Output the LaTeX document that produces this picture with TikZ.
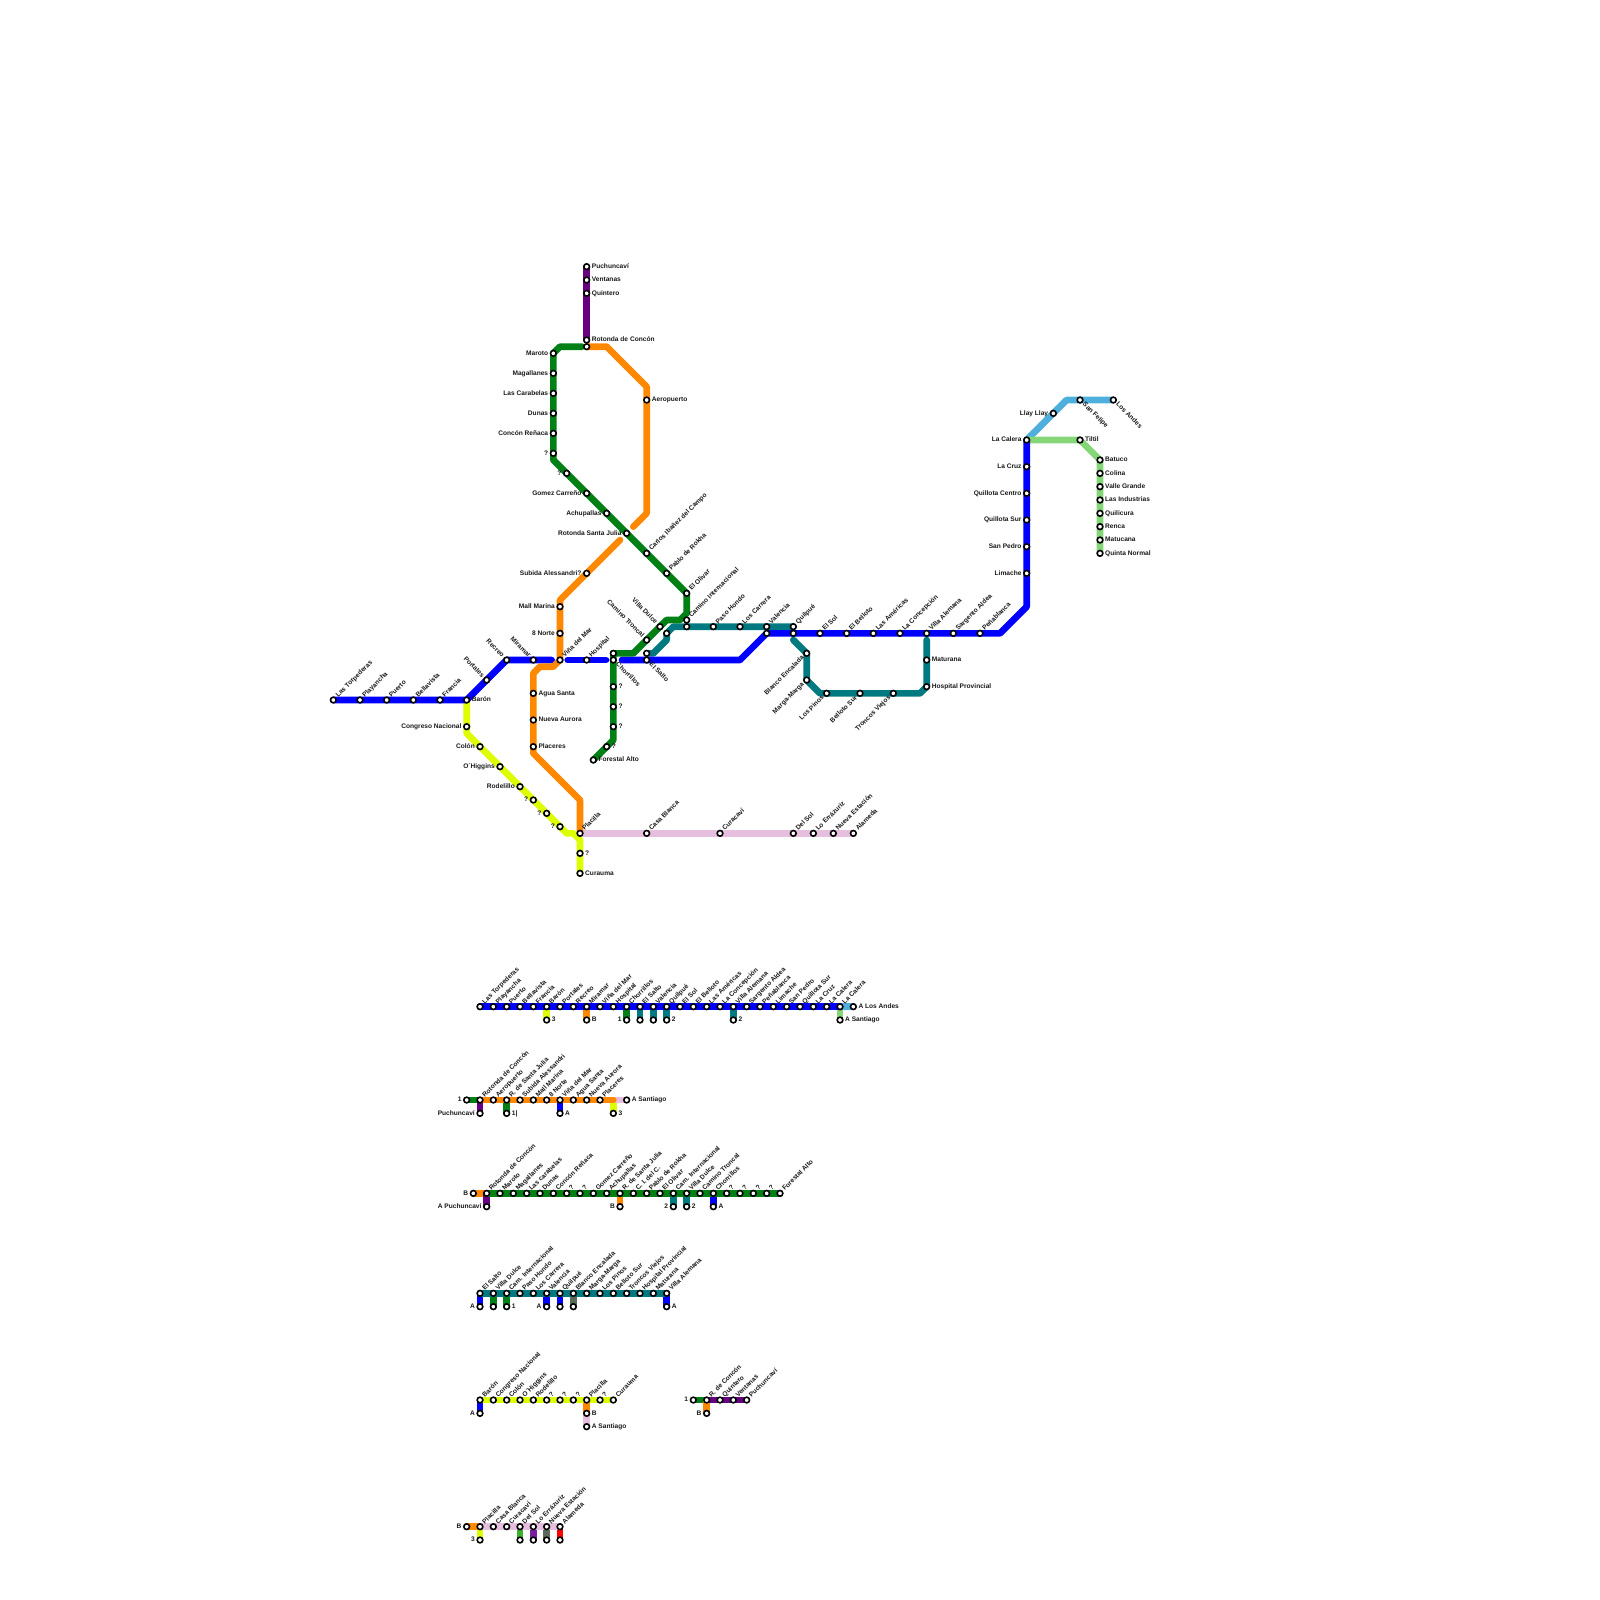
\documentclass[tikz,border=0pt]{standalone}
\usepackage{fontspec}
\setmainfont{Liberation Sans}
\pgfdeclarelayer{lines}
\pgfsetlayers{lines,main}
\definecolor{cblue}{HTML}{0000FF}
\definecolor{cgreen}{HTML}{008015}
\definecolor{corange}{HTML}{FF8800}
\definecolor{cpurple}{HTML}{660080}
\definecolor{cteal}{HTML}{007A80}
\definecolor{cyellow}{HTML}{DDFF00}
\definecolor{cpink}{HTML}{E5BFDD}
\definecolor{csky}{HTML}{4FAFDC}
\definecolor{clime}{HTML}{85D676}
\definecolor{cmid}{HTML}{40B030}
\definecolor{cviolet}{HTML}{7A1FA0}
\definecolor{cgray}{HTML}{5A6A5A}
\definecolor{cred}{HTML}{FF0000}
\tikzset{
  stnode/.style={circle,draw=black,fill=white,line width=.8pt,inner sep=0pt,outer sep=0pt,minimum size=2.85pt},
  lblbase/.style={font=\fontsize{3.3}{4}\selectfont\bfseries,text=black!90,inner xsep=2.4pt,inner ysep=0pt,text height=2.4pt,text depth=.6pt},
  lblR/.style={lblbase,anchor=west},
  lblL/.style={lblbase,anchor=east},
  lblNE/.style={lblbase,anchor=west,rotate=45},
  lblSE/.style={lblbase,anchor=west,rotate=-45},
  lblNW/.style={lblbase,anchor=east,rotate=-45},
  lblSW/.style={lblbase,anchor=east,rotate=45},
  metro/.style={line width=3.3333pt,line cap=round,line join=round},
  lnblue/.style={metro,draw=cblue},
  lngreen/.style={metro,draw=cgreen},
  lnorange/.style={metro,draw=corange},
  lnpurple/.style={metro,draw=cpurple},
  lnteal/.style={metro,draw=cteal},
  lnyellow/.style={metro,draw=cyellow},
  lnpink/.style={metro,draw=cpink},
  lnsky/.style={metro,draw=csky},
  lnlime/.style={metro,draw=clime},
  lnmid/.style={metro,draw=cmid},
  lnviolet/.style={metro,draw=cviolet},
  lngray/.style={metro,draw=cgray},
  lnred/.style={metro,draw=cred},
}
\newcommand{\Sta}[4]{\node[stnode] (#1) at (#2) {}; \node[lbl#3] (#1t) at (#1.center) {#4};}
\newcommand{\Stb}[2]{\node[stnode] (#1) at (#2) {};}
\begin{document}
\begin{tikzpicture}[x=3.33333pt,y=-3.33333pt]
\useasboundingbox (0,0) rectangle (240,240);
% ---- main map stations
\Sta{puch}{88,40}{R}{Puchuncaví}
\Sta{vent}{88,42}{R}{Ventanas}
\Sta{quin}{88,44}{R}{Quintero}
\Sta{rotc}{88,51}{R}{Rotonda de Concón}
\Stb{rotb}{88,52}
\Sta{maro}{83,53}{L}{Maroto}
\Sta{maga}{83,56}{L}{Magallanes}
\Sta{cara}{83,59}{L}{Las Carabelas}
\Sta{duna}{83,62}{L}{Dunas}
\Sta{cren}{83,65}{L}{Concón Reñaca}
\Sta{qa}{83,68}{L}{?}
\Sta{qb}{85,71}{L}{?}
\Sta{gome}{88,74}{L}{Gomez Carreño}
\Sta{achu}{91,77}{L}{Achupallas}
\Sta{rsj}{94,80}{L}{Rotonda Santa Julia}
\Sta{cibz}{97,83}{NE}{Carlos Ibañez del Campo}
\Sta{pablo}{100,86}{NE}{Pablo de Rokha}
\Sta{oliv}{103,89}{NE}{El Olivar}
\Sta{cint}{103,93}{NE}{Camino Internacional}
\Stb{cintb}{103,94}
\Sta{paso}{107,94}{NE}{Paso Hondo}
\Sta{lcar}{111,94}{NE}{Los Carrera}
\Sta{vald}{99,94}{NW}{Villa Dulce}
\Stb{tealb}{100,95}
\Sta{ctro}{97,96}{NW}{Camino Troncal}
\Stb{salb}{97,98}
\Sta{salt}{97,99}{SE}{El Salto}
\Stb{chob}{92,98}
\Sta{chor}{92,99}{SE}{Chorrillos}
\Sta{hosp}{88,99}{NE}{Hospital}
\Sta{vina}{84,99}{NE}{Viña del Mar}
\Sta{mira}{80,99}{NW}{Miramar}
\Sta{recr}{76,99}{NW}{Recreo}
\Sta{port}{73,102}{NW}{Portales}
\Sta{baro}{70,105}{R}{Barón}
\Sta{fran}{66,105}{NE}{Francia}
\Sta{bell}{62,105}{NE}{Bellavista}
\Sta{puer}{58,105}{NE}{Puerto}
\Sta{play}{54,105}{NE}{Playancha}
\Sta{torp}{50,105}{NE}{Las Torpederas}
\Sta{aero}{97,60}{R}{Aeropuerto}
\Sta{sale}{88,86}{L}{Subida Alessandri?}
\Sta{mall}{84,91}{L}{Mall Marina}
\Sta{nort}{84,95}{L}{8 Norte}
\Sta{agua}{80,104}{R}{Agua Santa}
\Sta{naur}{80,108}{R}{Nueva Aurora}
\Sta{plac}{80,112}{R}{Placeres}
\Sta{plla}{87,125}{NE}{Placilla}
\Sta{cong}{70,109}{L}{Congreso Nacional}
\Sta{colo}{72,112}{L}{Colón}
\Sta{ohig}{75,115}{L}{O´Higgins}
\Sta{rode}{78,118}{L}{Rodelillo}
\Sta{qc}{80,120}{L}{?}
\Sta{qd}{82,122}{L}{?}
\Sta{qe}{84,124}{L}{?}
\Sta{qf}{87,128}{R}{?}
\Sta{cura}{87,131}{R}{Curauma}
\Sta{qg}{92,103}{R}{?}
\Sta{qh}{92,106}{R}{?}
\Sta{qi}{92,109}{R}{?}
\Sta{qj}{91,112}{R}{?}
\Sta{fore}{89,114}{R}{Forestal Alto}
\Sta{valt}{115,94}{NE}{Valencia}
\Stb{valb}{115,95}
\Sta{quit}{119,94}{NE}{Quilpué}
\Stb{quib}{119,95}
\Sta{esol}{123,95}{NE}{El Sol}
\Sta{ebel}{127,95}{NE}{El Belloto}
\Sta{lame}{131,95}{NE}{Las Américas}
\Sta{lcon}{135,95}{NE}{La Concepción}
\Sta{vale}{139,95}{NE}{Villa Alemana}
\Sta{sarg}{143,95}{NE}{Sargento Aldea}
\Sta{penb}{147,95}{NE}{Peñablanca}
\Sta{limc}{154,86}{L}{Limache}
\Sta{sped}{154,82}{L}{San Pedro}
\Sta{qsur}{154,78}{L}{Quillota Sur}
\Sta{qcen}{154,74}{L}{Quillota Centro}
\Sta{lcru}{154,70}{L}{La Cruz}
\Sta{lcal}{154,66}{L}{La Calera}
\Sta{llay}{158,62}{L}{Llay Llay}
\Sta{sfel}{162,60}{SE}{San Felipe}
\Sta{land}{167,60}{SE}{Los Andes}
\Sta{tilt}{162,66}{R}{Tiltil}
\Sta{batu}{165,69}{R}{Batuco}
\Sta{coli}{165,71}{R}{Colina}
\Sta{vgra}{165,73}{R}{Valle Grande}
\Sta{lind}{165,75}{R}{Las Industrias}
\Sta{quil}{165,77}{R}{Quilicura}
\Sta{renc}{165,79}{R}{Renca}
\Sta{matu}{165,81}{R}{Matucana}
\Sta{qnor}{165,83}{R}{Quinta Normal}
\Sta{benc}{121,98}{SW}{Blanco Encalada}
\Sta{marg}{121,102}{SW}{Marga-Marga}
\Sta{lpin}{124,104}{SW}{Los Pinos}
\Sta{bsur}{129,104}{SW}{Belloto Sur}
\Sta{tvie}{134,104}{SW}{Troncos Viejos}
\Sta{hprv}{139,103}{R}{Hospital Provincial}
\Sta{matr}{139,99}{R}{Maturana}
\Sta{cbla}{97,125}{NE}{Casa Blanca}
\Sta{cvi}{108,125}{NE}{Curacaví}
\Sta{dsol}{119,125}{NE}{Del Sol}
\Sta{lerr}{122,125}{NE}{Lo Errázuriz}
\Sta{nest}{125,125}{NE}{Nueva Estación}
\Sta{alam}{128,125}{NE}{Alameda}
% ---- bend points
\coordinate (pA) at (84,52); \coordinate (pB) at (87.3,52);
\coordinate (pC) at (83,69); \coordinate (pD) at (103,92);
\coordinate (pE) at (102,93); \coordinate (pF) at (100,93);
\coordinate (pG) at (95,98); \coordinate (pH) at (92,111);
\coordinate (oA) at (91,52); \coordinate (oB) at (97,58);
\coordinate (oC) at (97,77); \coordinate (oD) at (95,79);
\coordinate (oE) at (93,81); \coordinate (oF) at (84,90);
\coordinate (oG) at (83,100); \coordinate (oH) at (81,100);
\coordinate (oI) at (80,101); \coordinate (oJ) at (80,113);
\coordinate (oK) at (87,120);
\coordinate (bA) at (82.75,99); \coordinate (bB) at (85.15,99);
\coordinate (bC) at (90.9,99); \coordinate (bD) at (93.3,99);
\coordinate (bE) at (111,99); \coordinate (bF) at (150,95);
\coordinate (bG) at (154,91);
\coordinate (tA) at (98,98); \coordinate (tB) at (100,96);
\coordinate (tC) at (101,94); \coordinate (tD) at (119,96);
\coordinate (tE) at (123,104); \coordinate (tF) at (138,104);
\coordinate (tG) at (139,96);
\coordinate (yA) at (70,110); \coordinate (yB) at (85,125);
\coordinate (yC) at (86,125); \coordinate (yD) at (87,126);
\coordinate (sA) at (160,60);
% ---- line diagrams
\foreach \px/\lab in {72/Las Torpederas,74/Playancha,76/Puerto,78/Bellavista,80/Francia,82/Barón,84/Portales,86/Recreo,88/Miramar,90/Viña del Mar,92/Hospital,94/Chorrillos,96/El Salto,98/Valencia,100/Quilpué,102/El Sol,104/El Belloto,106/Las Américas,108/La Concepción,110/Villa Alemana,112/Sargento Aldea,114/Peñablanca,116/Limache,118/San Pedro,120/Quillota Sur,122/La Cruz,124/La Calera,126/La Calera}{
  \node[stnode] (ra\px) at (\px,151) {}; \node[lblNE] (ra\px t) at (ra\px.center) {\lab};}
\Sta{raA}{82,153}{R}{3}
\Sta{raB}{88,153}{R}{B}
\Sta{raC}{94,153}{L}{1}
\Stb{raD}{96,153}
\Stb{raE}{98,153}
\Sta{raF}{100,153}{R}{2}
\Sta{raG}{110,153}{R}{2}
\Sta{raH}{126,153}{R}{A Santiago}
\Sta{raI}{128,151}{R}{A Los Andes}
\foreach \px/\lab in {72/Rotonda de Concón,74/Aeropuerto,76/R. de Santa Julia,78/Subida Alessandri,80/Mall Marina,82/8 Norte,84/Viña del Mar,86/Agua Santa,88/Nueva Aurora,90/Placeres}{
  \node[stnode] (rb\px) at (\px,165) {}; \node[lblNE] (rb\px t) at (rb\px.center) {\lab};}
\Sta{rbA}{70,165}{L}{1}
\Sta{rbB}{72,167}{L}{Puchuncaví}
\Sta{rbC}{76,167}{R}{1|}
\Sta{rbD}{84,167}{R}{A}
\Sta{rbE}{92,167}{R}{3}
\Sta{rbF}{94,165}{R}{A Santiago}
\coordinate (rbEnd) at (92,165);
\foreach \px/\lab in {73/Rotonda de Concón,75/Maroto,77/Magallanes,79/Las carabelas,81/Dunas,83/Concón Reñaca,85/?,87/?,89/Gomez Carreño,91/Achupallas,93/R. de Santa Julia,95/C. I. del C.,97/Pablo de Rokha,99/El Olivar,101/Cam. Internacional,103/Villa Dulce,105/Camino Troncal,107/Chorrillos,109/?,111/?,113/?,115/?,117/Forestal Alto}{
  \node[stnode] (rc\px) at (\px,179) {}; \node[lblNE] (rc\px t) at (rc\px.center) {\lab};}
\Sta{rcA}{71,179}{L}{B}
\Sta{rcB}{73,181}{L}{A Puchuncaví}
\Sta{rcC}{93,181}{L}{B}
\Sta{rcD}{101,181}{L}{2}
\Sta{rcE}{103,181}{R}{2}
\Sta{rcF}{107,181}{R}{A}
\foreach \px/\lab in {72/El Salto,74/Villa Dulce,76/Cam. Internacional,78/Paso Hondo,80/Los Carrera,82/Valencia,84/Quilpué,86/Blanco Encalada,88/Marga-Marga,90/Los Pinos,92/Belloto Sur,94/Troncos Viejos,96/Hospital Provincial,98/Maturana,100/Villa Alemana}{
  \node[stnode] (rd\px) at (\px,194) {}; \node[lblNE] (rd\px t) at (rd\px.center) {\lab};}
\Sta{rdA}{72,196}{L}{A}
\Stb{rdB}{74,196}
\Sta{rdC}{76,196}{R}{1}
\Sta{rdD}{82,196}{L}{A}
\Stb{rdE}{84,196}
\Stb{rdF}{86,196}
\Sta{rdG}{100,196}{R}{A}
\foreach \px/\lab in {72/Barón,74/Congreso Nacional,76/Colón,78/O´Higgins,80/Rodelillo,82/?,84/?,86/?,88/Placilla,90/?,92/Curauma}{
  \node[stnode] (re\px) at (\px,210) {}; \node[lblNE] (re\px t) at (re\px.center) {\lab};}
\Sta{reA}{72,212}{L}{A}
\Sta{reB}{88,212}{R}{B}
\Sta{reC}{88,214}{R}{A Santiago}
\foreach \px/\lab in {106/R. de Concón,108/Quintero,110/Ventanas,112/Puchuncaví}{
  \node[stnode] (rf\px) at (\px,210) {}; \node[lblNE] (rf\px t) at (rf\px.center) {\lab};}
\Sta{rfA}{104,210}{L}{1}
\Sta{rfB}{106,212}{L}{B}
\foreach \px/\lab in {72/Placilla,74/Casa Blanca,76/Curacaví,78/Del Sol,80/Lo Errázuriz,82/Nueva Estación,84/Alameda}{
  \node[stnode] (rg\px) at (\px,229) {}; \node[lblNE] (rg\px t) at (rg\px.center) {\lab};}
\Sta{rgA}{70,229}{L}{B}
\Sta{rgB}{72,231}{L}{3}
\Stb{rgC}{78,231}
\Stb{rgD}{80,231}
\Stb{rgE}{82,231}
\Stb{rgF}{84,231}
% ---- lines
\begin{pgfonlayer}{lines}
\draw[lnpink] (plla.center) -- (alam.center);
\draw[lnyellow] (baro.center) -- (yA) -- (yB) -- (yC) -- (yD) -- (cura.center);
\draw[lnteal] (tD) -- (benc.center) -- (marg.center) -- (tE) -- (tF) -- (hprv.center) -- (tG);
\draw[lnteal] (salb.center) -- (tA) -- (tB) -- (tealb.center) -- (tC) -- (quit.center);
\draw[lnsky] (lcal.center) -- (sA) -- (land.center);
\draw[lnlime] (lcal.center) -- (tilt.center) -- (batu.center) -- (qnor.center);
\draw[lnblue] (torp.center) -- (baro.center) -- (recr.center) -- (bA);
\draw[lnblue] (bB) -- (bC);
\draw[lnblue] (bD) -- (bE) -- (valb.center) -- (penb.center) -- (bF) -- (bG) -- (lcal.center);
\draw[lnpurple] (puch.center) -- (rotc.center);
\draw[lnorange] (rotb.center) -- (oA) -- (oB) -- (oC) -- (oD);
\draw[lnorange] (oE) -- (oF) -- (vina.center) -- (oG) -- (oH) -- (oI) -- (oJ) -- (oK) -- (plla.center);
\draw[lngreen] (pB) -- (pA) -- (maro.center) -- (pC) -- (oliv.center) -- (pD) -- (pE) -- (pF) -- (pG) -- (chob.center);
\draw[lngreen] (chob.center) -- (pH) -- (fore.center);
% row a
\draw[lnyellow] (ra82.center) -- (raA.center);
\draw[lnorange] (ra88.center) -- (raB.center);
\draw[lngreen] (ra94.center) -- (raC.center);
\draw[lnteal] (ra96.center) -- (raD.center);
\draw[lnteal] (ra98.center) -- (raE.center);
\draw[lnteal] (ra100.center) -- (raF.center);
\draw[lnteal] (ra110.center) -- (raG.center);
\draw[lnlime] (ra126.center) -- (raH.center);
\draw[lnsky] (ra126.center) -- (raI.center);
\draw[lnblue] (ra72.center) -- (ra126.center);
% row b
\draw[lngreen] (rbA.center) -- (rb72.center);
\draw[lnpurple] (rb72.center) -- (rbB.center);
\draw[lngreen] (rb76.center) -- (rbC.center);
\draw[lnblue] (rb84.center) -- (rbD.center);
\draw[lnyellow] (rbEnd) -- (rbE.center);
\draw[lnpink] (rbEnd) -- (rbF.center);
\draw[lnorange] (rb72.center) -- (rbEnd);
% row c
\draw[lnorange] (rcA.center) -- (rc73.center);
\draw[lnpurple] (rc73.center) -- (rcB.center);
\draw[lnorange] (rc93.center) -- (rcC.center);
\draw[lnteal] (rc101.center) -- (rcD.center);
\draw[lnteal] (rc103.center) -- (rcE.center);
\draw[lnblue] (rc107.center) -- (rcF.center);
\draw[lngreen] (rc73.center) -- (rc117.center);
% row d
\draw[lnblue] (rd72.center) -- (rdA.center);
\draw[lngreen] (rd74.center) -- (rdB.center);
\draw[lngreen] (rd76.center) -- (rdC.center);
\draw[lnblue] (rd82.center) -- (rdD.center);
\draw[lnblue] (rd84.center) -- (rdE.center);
\draw[lngray] (rd86.center) -- (rdF.center);
\draw[lnblue] (rd100.center) -- (rdG.center);
\draw[lnteal] (rd72.center) -- (rd100.center);
% row e
\draw[lnblue] (re72.center) -- (reA.center);
\draw[lnpink] (reB.center) -- (reC.center);
\draw[lnorange] (re88.center) -- (reB.center);
\draw[lnyellow] (re72.center) -- (re92.center);
% row f
\draw[lngreen] (rfA.center) -- (rf106.center);
\draw[lnorange] (rf106.center) -- (rfB.center);
\draw[lnpurple] (rf106.center) -- (rf112.center);
% row g
\draw[lnorange] (rgA.center) -- (rg72.center);
\draw[lnyellow] (rg72.center) -- (rgB.center);
\draw[lnmid] (rg78.center) -- (rgC.center);
\draw[lnviolet] (rg80.center) -- (rgD.center);
\draw[lngray] (rg82.center) -- (rgE.center);
\draw[lnred] (rg84.center) -- (rgF.center);
\draw[lnpink] (rg72.center) -- (rg84.center);
\end{pgfonlayer}
\end{tikzpicture}
\end{document}
